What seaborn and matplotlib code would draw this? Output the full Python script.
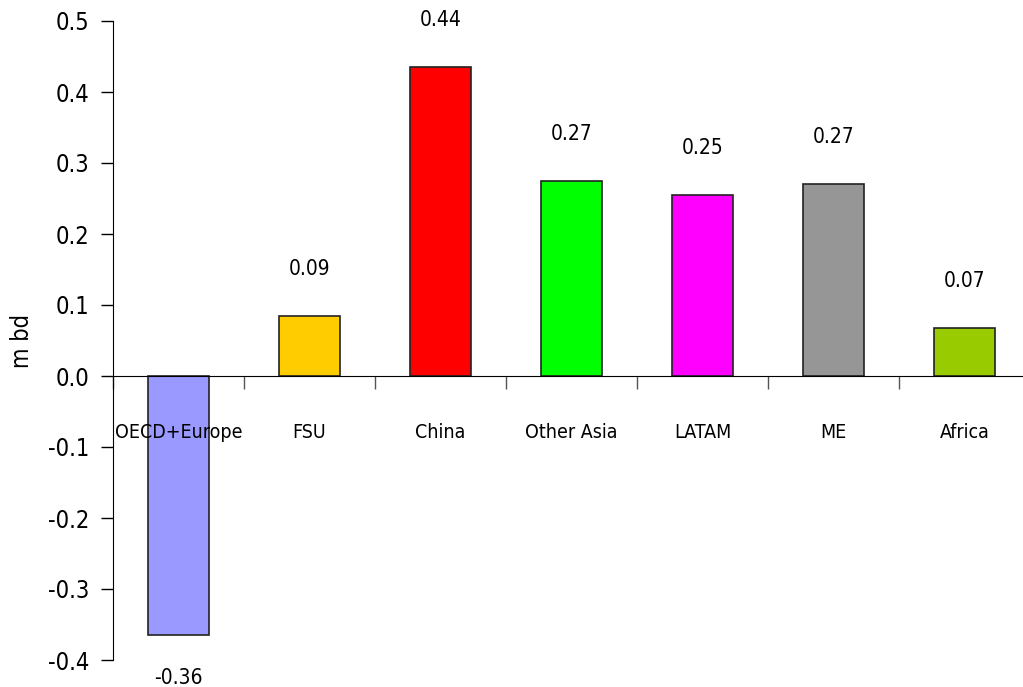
import matplotlib
matplotlib.use("Agg")
import matplotlib.pyplot as plt
import seaborn as sns
import pandas as pd
import numpy as np

# data
regions = ['OECD+Europe', 'FSU', 'China', 'Other Asia', 'LATAM', 'ME', 'Africa']
values = [-0.365, 0.085, 0.435, 0.275, 0.255, 0.27, 0.068]
labels = ['-0.36', '0.09', '0.44', '0.27', '0.25', '0.27', '0.07']
colors = ['#9999FF', '#FFCC00', '#FF0000', '#00FF00', '#FF00FF', '#969696', '#99CC00']
yticks = [-0.4, -0.3, -0.2, -0.1, 0.0, 0.1, 0.2, 0.3, 0.4, 0.5]

sns.set_style("white")
plt.rcParams['font.family'] = ['DejaVu Sans']
plt.rcParams['font.stretch'] = 'condensed'
plt.rcParams['axes.unicode_minus'] = False
plt.rcParams['text.color'] = 'black'
plt.rcParams['axes.labelcolor'] = 'black'
plt.rcParams['ytick.color'] = 'black'

df = pd.DataFrame({'region': regions, 'value': values})

fig = plt.figure(figsize=(10.23, 6.87), dpi=100)
ax = fig.add_axes([113 / 1023, 27 / 687, 917 / 1023, 639 / 687])

sns.barplot(data=df, x='region', y='value', hue='region', palette=colors,
            width=0.47, edgecolor='#222222', linewidth=1.2, legend=False,
            saturation=1, ax=ax)

ax.set_ylim(-0.4, 0.5)
ax.set_xlim(-0.5, 6.5)
ax.set_yticks(yticks)
ax.set_yticklabels([f'{t:.1f}' for t in yticks], fontsize=17)
ax.tick_params(axis='y', direction='out', length=9, width=1, color='black', pad=8, left=True)

# x axis drawn at zero, with tick marks between categories
ax.spines['bottom'].set_position(('data', 0))
ax.spines['top'].set_visible(False)
ax.spines['right'].set_visible(False)
ax.spines['left'].set_color('black')
ax.spines['bottom'].set_color('black')
ax.set_xticks(np.arange(-0.5, 6.5, 1.0))
ax.set_xticklabels([])
ax.tick_params(axis='x', direction='out', length=9, width=1, color='#555555', bottom=True)
ax.set_xlabel('')

for i, name in enumerate(regions):
    ax.text(i, -0.079, name, ha='center', va='center', fontsize=14)

for i, (v, lab) in enumerate(zip(values, labels)):
    y = v + 0.066 if v >= 0 else v - 0.06
    ax.text(i, y, lab, ha='center', va='center', fontsize=15)

ax.set_ylabel('m bd', fontsize=17, labelpad=10)

fig.savefig('out.png', dpi=100)
